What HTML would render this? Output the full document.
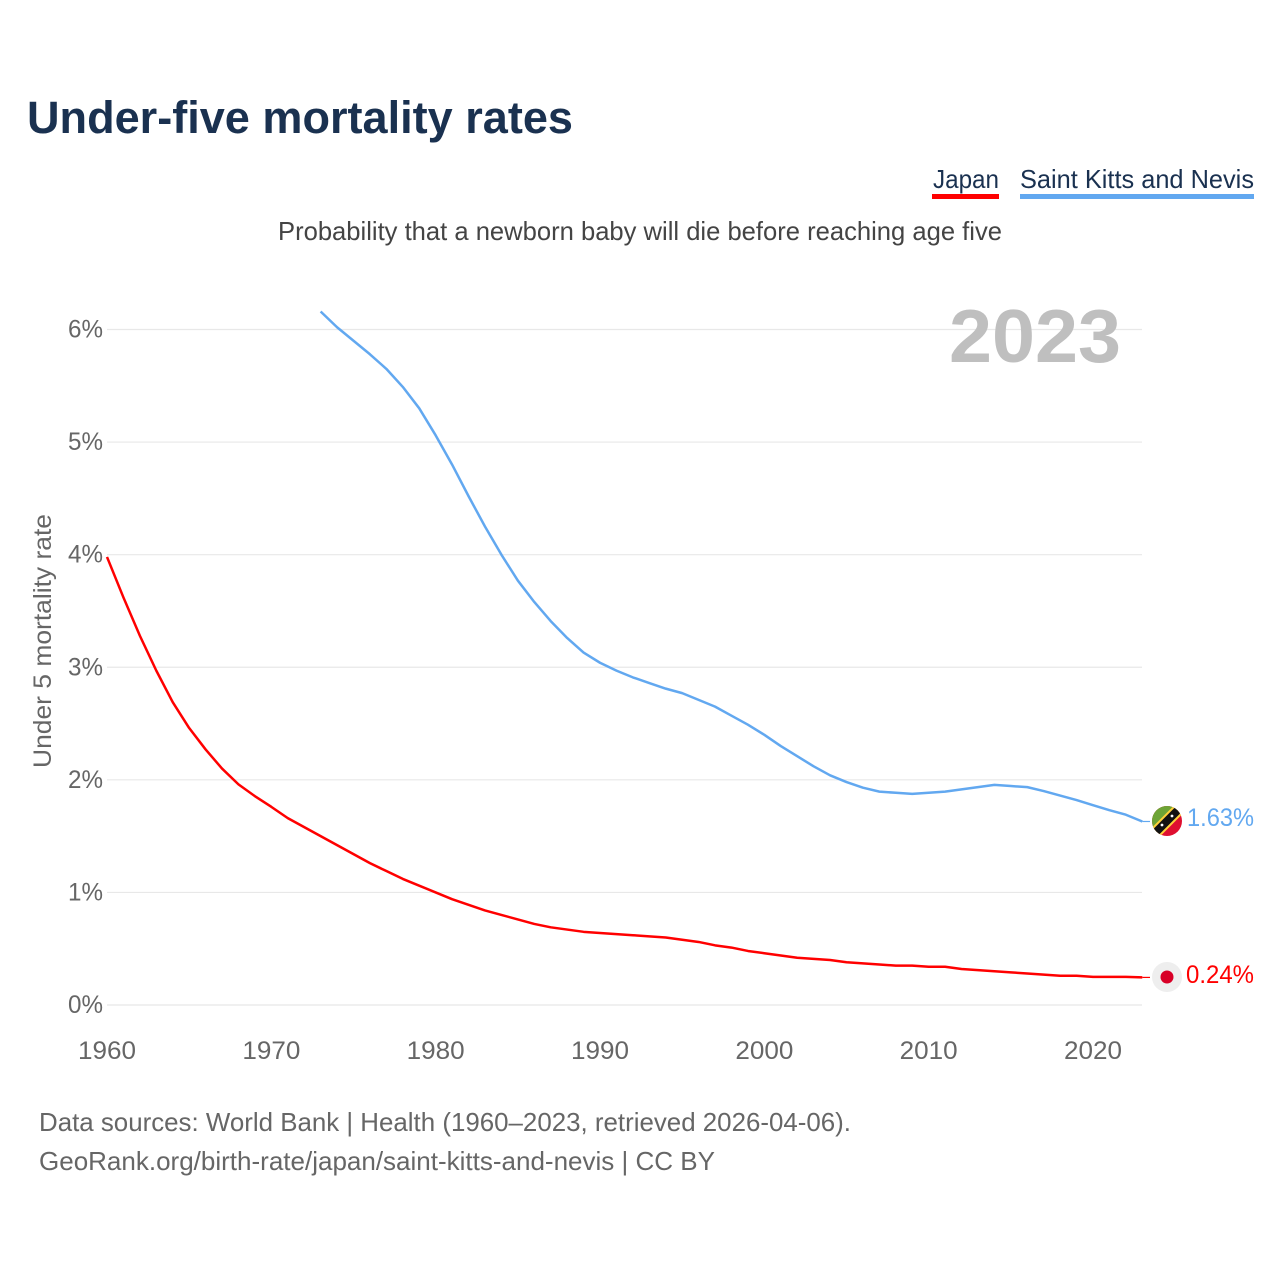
<!DOCTYPE html>
<html lang="en">
<head>
<meta charset="utf-8">
<title>Under-five mortality rates</title>
<style>
html,body{margin:0;padding:0;background:#fff;width:1280px;height:1280px;overflow:hidden}
svg{display:block;font-family:"Liberation Sans",sans-serif}
</style>
</head>
<body>
<svg id="chart" xmlns="http://www.w3.org/2000/svg" width="1280" height="1280" viewBox="0 0 1280 1280">
  <defs>
    <clipPath id="clip-kn"><circle cx="1167" cy="821" r="15"/></clipPath>
  </defs>
  <rect width="1280" height="1280" fill="#fff"/>
  <text x="27" y="133" font-size="45" font-weight="700" fill="#1a3150" textLength="546" lengthAdjust="spacingAndGlyphs">Under-five mortality rates</text>
  <text x="933" y="188" font-size="26" fill="#1a3150" textLength="66" lengthAdjust="spacingAndGlyphs">Japan</text>
  <rect x="932" y="194" width="67" height="5" fill="#ff0000"/>
  <text x="1020" y="188" font-size="26" fill="#1a3150" textLength="234" lengthAdjust="spacingAndGlyphs">Saint Kitts and Nevis</text>
  <rect x="1020" y="194" width="234" height="5" fill="#62a8f0"/>
  <text x="278" y="240" font-size="26" fill="#444" textLength="724" lengthAdjust="spacingAndGlyphs">Probability that a newborn baby will die before reaching age five</text>
  <g id="grid"></g>
  <text x="949" y="362" font-size="75" font-weight="700" fill="#bfbfbf" textLength="172" lengthAdjust="spacingAndGlyphs">2023</text>
  <g id="y-ticks"></g>
  <g id="x-ticks"></g>
  <text transform="translate(51,768) rotate(-90)" font-size="25" fill="#666" textLength="254" lengthAdjust="spacingAndGlyphs">Under 5 mortality rate</text>
  <g id="series"></g>
  <g clip-path="url(#clip-kn)">
    <rect x="1150" y="804" width="34" height="34" fill="#df0f30"/>
    <polygon points="1150,804 1184,804 1150,838" fill="#6da436"/>
    <line x1="1152" y1="836" x2="1182" y2="806" stroke="#ffd13a" stroke-width="12"/>
    <line x1="1152" y1="836" x2="1182" y2="806" stroke="#111" stroke-width="8"/>
    <circle cx="1162" cy="825" r="1.4" fill="#fff"/>
    <circle cx="1172" cy="816" r="1.4" fill="#fff"/>
  </g>
  <g>
    <circle cx="1167" cy="977" r="15" fill="#eeeeee"/>
    <circle cx="1167" cy="977" r="6.5" fill="#d80027"/>
  </g>
  <text x="1187" y="826" font-size="25" fill="#62a8f0" textLength="67" lengthAdjust="spacingAndGlyphs">1.63%</text>
  <text x="1186" y="983" font-size="25" fill="#ff0000" textLength="68" lengthAdjust="spacingAndGlyphs">0.24%</text>
  <text x="39" y="1131" font-size="26" fill="#666" textLength="812" lengthAdjust="spacingAndGlyphs">Data sources: World Bank | Health (1960–2023, retrieved 2026-04-06).</text>
  <text x="39" y="1170" font-size="26" fill="#666" textLength="676" lengthAdjust="spacingAndGlyphs">GeoRank.org/birth-rate/japan/saint-kitts-and-nevis | CC BY</text>
</svg>
<script>
const yTickValues = [0, 1, 2, 3, 4, 5, 6];
const xTickYears = [1960, 1970, 1980, 1990, 2000, 2010, 2020];
const japanStartYear = 1960;
const japanValues = [3.98,3.62,3.28,2.97,2.69,2.46,2.27,2.1,1.96,1.855,1.76,1.66,1.58,1.5,1.42,1.34,1.26,1.19,1.12,1.06,1.0,0.94,0.89,0.84,0.8,0.76,0.72,0.69,0.67,0.65,0.64,0.63,0.62,0.61,0.6,0.58,0.56,0.53,0.51,0.48,0.46,0.44,0.42,0.41,0.4,0.38,0.37,0.36,0.35,0.35,0.34,0.34,0.32,0.31,0.3,0.29,0.28,0.27,0.26,0.26,0.25,0.25,0.25,0.245];
const kittsStartYear = 1973;
const kittsValues = [6.16,6.02,5.9,5.78,5.65,5.49,5.3,5.06,4.8,4.52,4.25,4.0,3.77,3.58,3.41,3.26,3.13,3.04,2.97,2.91,2.86,2.81,2.77,2.71,2.65,2.57,2.49,2.4,2.3,2.21,2.12,2.04,1.98,1.93,1.895,1.885,1.875,1.885,1.895,1.915,1.935,1.955,1.945,1.935,1.9,1.86,1.82,1.775,1.73,1.69,1.63];

const NS = 'http://www.w3.org/2000/svg';
const xScale = function (year) { return 107 + (year - 1960) * (1093 - 107) / 60; };
const yScale = function (value) { return 1005 - value * (1005 - 329.5) / 6; };

function make(tag, attrs, parent, text) {
  const el = document.createElementNS(NS, tag);
  for (const k in attrs) el.setAttribute(k, attrs[k]);
  if (text !== undefined) el.textContent = text;
  parent.appendChild(el);
  return el;
}

const grid = document.getElementById('grid');
const yTicks = document.getElementById('y-ticks');
const xTicks = document.getElementById('x-ticks');
const seriesGroup = document.getElementById('series');

yTickValues.forEach(function (v) {
  const line = make('line', {x1: 107, x2: 1142, y1: yScale(v), y2: yScale(v), stroke: '#e8e8e8', 'stroke-width': 1.2}, grid);
  
  
  const label = make('text', {x: 103, y: yScale(v) + 8, 'font-size': 25, fill: '#666', 'text-anchor': 'end', textLength: 35, lengthAdjust: 'spacingAndGlyphs'}, yTicks, v + '%');
  
  
});

xTickYears.forEach(function (year) {
  const label = make('text', {x: xScale(year), y: 1059, 'font-size': 25, fill: '#666', 'text-anchor': 'middle', textLength: 58, lengthAdjust: 'spacingAndGlyphs'}, xTicks, String(year));
  
  
});

function linePath(startYear, values) {
  return values.map(function (v, i) {
    return (i ? 'L' : 'M') + xScale(startYear + i).toFixed(2) + ' ' + yScale(v).toFixed(2);
  }).join(' ');
}

function leader(values, color) {
  const y = yScale(values[values.length - 1]);
  return make('line', {x1: xScale(2023), x2: 1150, y1: y, y2: y, stroke: color, 'stroke-width': 1.2}, seriesGroup);
}

const kittsLine = make('path', {d: linePath(kittsStartYear, kittsValues), fill: 'none', stroke: '#62a8f0', 'stroke-width': 2.5, 'stroke-linejoin': 'round'}, seriesGroup);



const japanLine = make('path', {d: linePath(japanStartYear, japanValues), fill: 'none', stroke: '#ff0000', 'stroke-width': 2.5, 'stroke-linejoin': 'round'}, seriesGroup);



const kittsLeader = leader(kittsValues, '#62a8f0');



const japanLeader = leader(japanValues, '#ff0000');


</script>
</body>
</html>
